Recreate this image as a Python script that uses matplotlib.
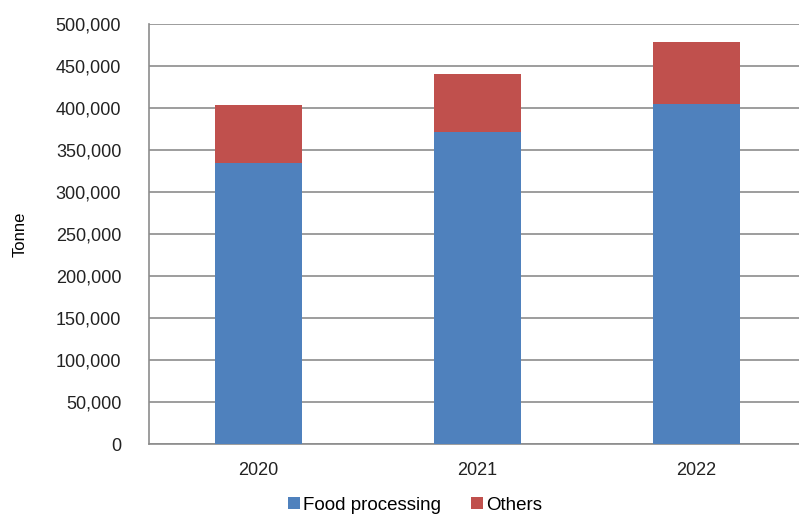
import numpy as np
import matplotlib.pyplot as plt
from matplotlib.ticker import FuncFormatter

years = ["2020", "2021", "2022"]
food_processing = [335000, 371000, 405000]
others = [68000, 70000, 73000]

plt.rcParams['font.family'] = ['Liberation Sans', 'DejaVu Sans']

fig = plt.figure(figsize=(7.99, 5.19), dpi=100)
ax = fig.add_axes([0.1865, 0.1445, 0.8225, 0.8093])

x = np.arange(len(years))
ax.bar(x, food_processing, width=0.40, color='#4F81BD', label='Food processing', zorder=3)
ax.bar(x, others, width=0.40, bottom=food_processing, color='#C0504D', label='Others', zorder=3)

ax.set_xlim(-0.5, len(years) - 0.5)
ax.set_ylim(0, 500000)
ax.set_yticks(np.arange(0, 500001, 50000))
ax.yaxis.set_major_formatter(FuncFormatter(lambda v, p: f"{int(v):,}"))
ax.set_xticks(x)
ax.set_xticklabels(years)

ax.grid(axis='y', color='#8c8c8c', linewidth=1.2, zorder=0)
for side in ['top', 'right']:
    ax.spines[side].set_visible(False)
ax.spines['left'].set_color('#8c8c8c')
ax.spines['bottom'].set_color('#8c8c8c')
ax.spines['left'].set_linewidth(1.2)
ax.spines['bottom'].set_linewidth(1.2)
ax.tick_params(axis='both', length=0, labelsize=13, colors='#222222')
ax.tick_params(axis='y', pad=20)
ax.tick_params(axis='x', pad=13)

ax.set_ylabel("Tonne", fontsize=12, labelpad=20)

fig.legend(loc='lower center', bbox_to_anchor=(0.52, -0.022), ncol=2, frameon=False,
           fontsize=13.5, handlelength=0.6, handleheight=0.6, handletextpad=0.2,
           columnspacing=1.6)

fig.savefig("out.png", dpi=100)
